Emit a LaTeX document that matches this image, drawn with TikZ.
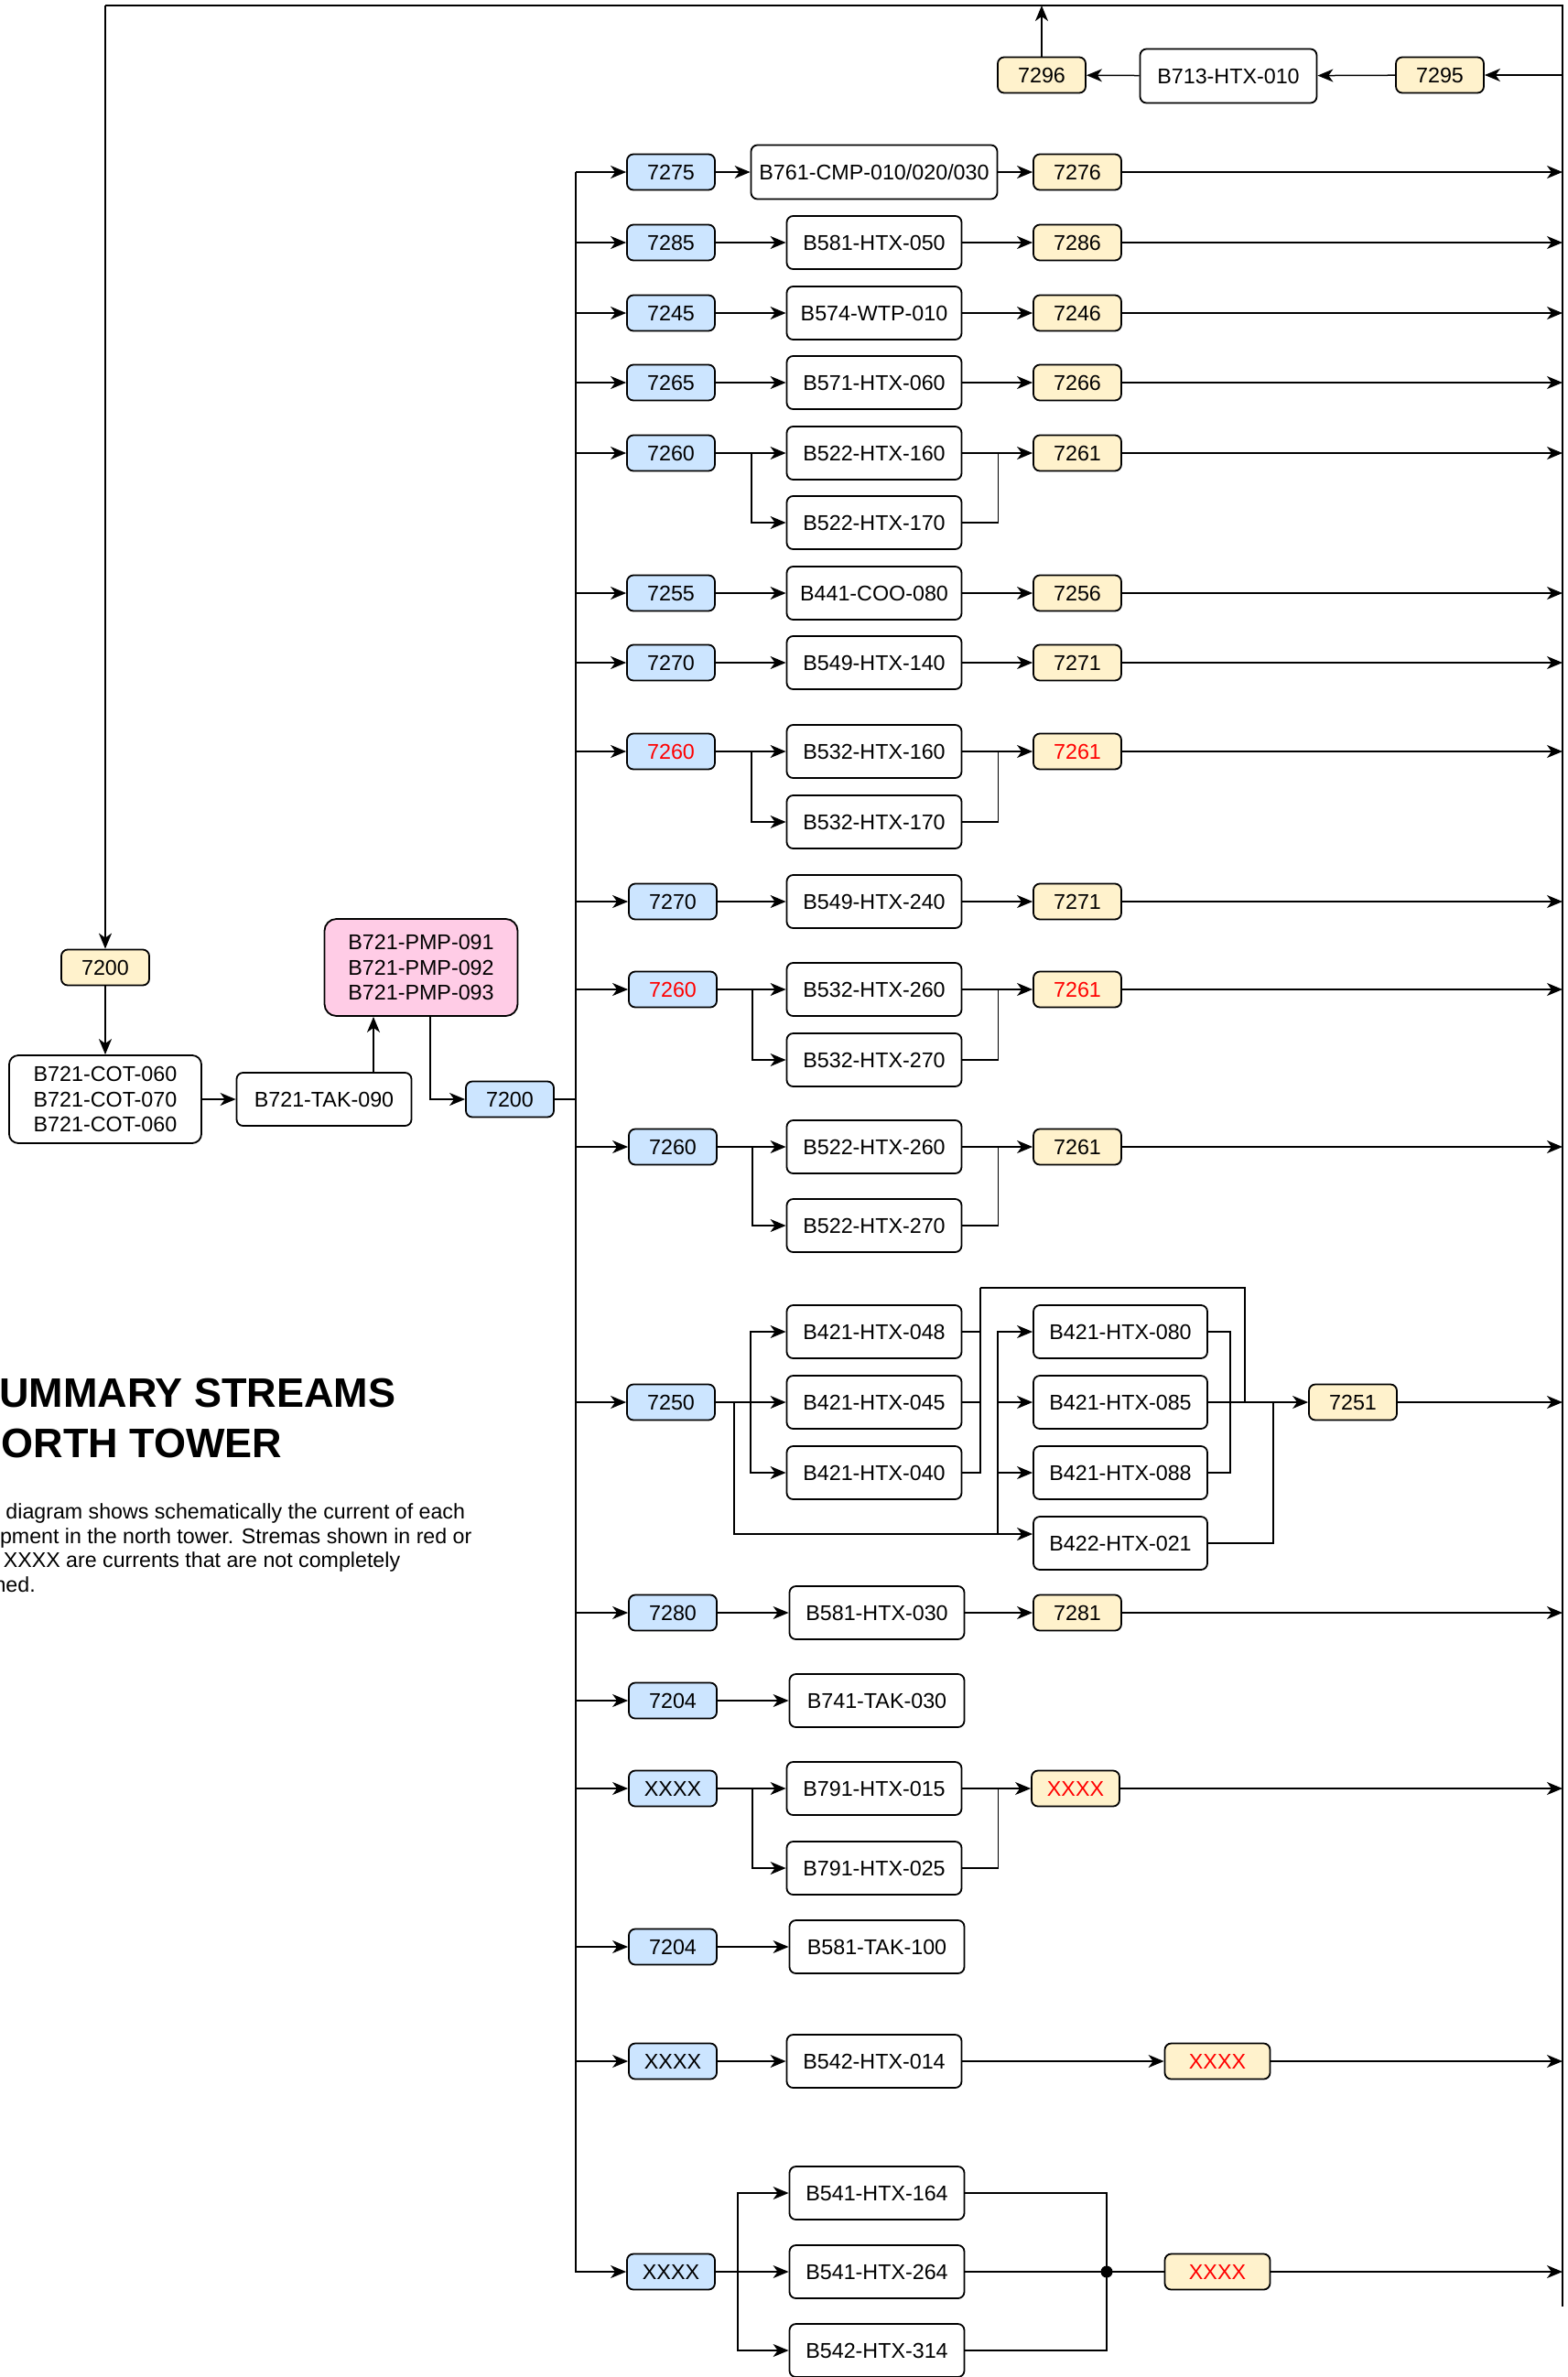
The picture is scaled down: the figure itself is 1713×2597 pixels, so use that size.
\documentclass[tikz,border=0pt]{standalone}
\usepackage{fontspec}
\setmainfont{Liberation Sans}
\usetikzlibrary{arrows.meta,calc}
\definecolor{cblue}{HTML}{CCE5FF}
\definecolor{cyel}{HTML}{FFF2CC}
\definecolor{cpink}{HTML}{FFCCE6}
\tikzset{
 box/.style={draw=black, line width=1.8pt, rounded corners=7pt, fill=white, minimum width=191pt, minimum height=58pt, inner sep=0pt, align=center, font=\fontsize{23.3}{27.7}\selectfont},
 bluebox/.style={box, fill=cblue, minimum width=96pt, minimum height=39pt},
 yelbox/.style={box, fill=cyel, minimum width=96pt, minimum height=39pt},
 ln/.style={line width=1.5pt},
 arr/.style={ln, -{Stealth[length=17pt, width=14pt, inset=5pt]}},
 titletxt/.style={anchor=base west, inner sep=0pt, font=\fontsize{45}{55}\bfseries\selectfont},
 desctxt/.style={anchor=base west, inner sep=0pt, font=\fontsize{23.2}{26.7}\selectfont},
}
\begin{document}
\begin{tikzpicture}[x=1pt,y=-1pt]
\useasboundingbox (0,0) rectangle (1713,2597);
\fill[white] (0,0) rectangle (1713,2597);
\clip (0,0) rectangle (1713,2597);

\coordinate (TL) at (115,6);
\coordinate (TR) at (1707,6);
\coordinate (BR) at (1707,2520);
\coordinate (BUS) at (629,188);

% ---------- top row
\node[yelbox] (t7295) at (1573,82) {7295};
\node[box, minimum width=193pt, minimum height=59pt] (tb713) at (1342,83) {B713-HTX-010};
\node[yelbox] (t7296) at (1138,82) {7296};
\draw[ln] (BR) -- (TR) -- (TL);
\draw[arr] (t7295 -| TR) -- (t7295);
\draw[arr] (t7295) -- (tb713);
\draw[arr] (tb713) -- (t7296);
\draw[arr] (t7296) -- (t7296 |- TL);

% ---------- left part
\node[yelbox] (l7200) at (115,1057) {7200};
\node[box, minimum width=210pt, minimum height=96pt, rounded corners=10pt] (lcot) at (115,1201) {B721-COT-060\\B721-COT-070\\B721-COT-060};
\node[box] (ltak) at (354,1201) {B721-TAK-090};
\node[box, fill=cpink, minimum width=211pt, minimum height=106pt, rounded corners=13pt] (lpmp) at (460,1057) {B721-PMP-091\\B721-PMP-092\\B721-PMP-093};
\node[bluebox] (l7200b) at (557,1201) {7200};
\draw[arr] (TL) -- (l7200);
\draw[arr] (l7200) -- (lcot);
\draw[arr] (lcot) -- (ltak);
\draw[arr] ([xshift=54pt]ltak.north) -- ([xshift=54pt]ltak.north |- lpmp.south);
\draw[arr] ([xshift=10pt]lpmp.south) |- (l7200b);
\draw[ln] (l7200b) -- (l7200b -| BUS);

% ---------- title and description
\node[titletxt] (title1) at (-31,1537) {SUMMARY STREAMS};
\node[titletxt] (title2) at (-31,1592) {NORTH TOWER};
\node[desctxt] (desc1) at (-44,1659) {This diagram shows schematically the current of each};
\node[desctxt] (desc2) at (-44,1686) {equipment in the north tower. Stremas shown in red or};
\node[desctxt] (desc3) at (-44,1712) {with XXXX are currents that are not completely};
\node[desctxt] (desc4) at (-44,1739) {defined.};

% ---------- row 1
\node[bluebox] (r1b) at (733,188) {7275};
\node[box, minimum width=269pt, minimum height=59pt] (r1m) at (955,188) {B761-CMP-010/020/030};
\node[yelbox] (r1y) at (1177,188) {7276};
\draw[arr] (r1b -| BUS) -- (r1b);
\draw[arr] (r1b) -- (r1m);
\draw[arr] (r1m) -- (r1y);
\draw[arr] (r1y) -- (r1y -| TR);

% ---------- row 2
\node[bluebox] (r2b) at (733,265) {7285};
\node[box] (r2m) at (955,265) {B581-HTX-050};
\node[yelbox] (r2y) at (1177,265) {7286};
\draw[arr] (r2b -| BUS) -- (r2b);
\draw[arr] (r2b) -- (r2m);
\draw[arr] (r2m) -- (r2y);
\draw[arr] (r2y) -- (r2y -| TR);

% ---------- row 3
\node[bluebox] (r3b) at (733,342) {7245};
\node[box] (r3m) at (955,342) {B574-WTP-010};
\node[yelbox] (r3y) at (1177,342) {7246};
\draw[arr] (r3b -| BUS) -- (r3b);
\draw[arr] (r3b) -- (r3m);
\draw[arr] (r3m) -- (r3y);
\draw[arr] (r3y) -- (r3y -| TR);

% ---------- row 4
\node[bluebox] (r4b) at (733,418) {7265};
\node[box] (r4m) at (955,418) {B571-HTX-060};
\node[yelbox] (r4y) at (1177,418) {7266};
\draw[arr] (r4b -| BUS) -- (r4b);
\draw[arr] (r4b) -- (r4m);
\draw[arr] (r4m) -- (r4y);
\draw[arr] (r4y) -- (r4y -| TR);

% ---------- row 5 (pair)
\node[bluebox] (r5b) at (733,495) {7260};
\node[box] (r5m) at (955,495) {B522-HTX-160};
\node[box] (r5n) at (955,571) {B522-HTX-170};
\node[yelbox] (r5y) at (1177,495) {7261};
\draw[arr] (r5b -| BUS) -- (r5b);
\draw[arr] (r5b) -- (r5m);
\draw[arr] ([xshift=39pt]r5b.east) |- (r5n);
\draw[ln] (r5n) -| ([xshift=39pt]r5m.east);
\draw[arr] (r5m) -- (r5y);
\draw[arr] (r5y) -- (r5y -| TR);

% ---------- row 6
\node[bluebox] (r6b) at (733,648) {7255};
\node[box] (r6m) at (955,648) {B441-COO-080};
\node[yelbox] (r6y) at (1177,648) {7256};
\draw[arr] (r6b -| BUS) -- (r6b);
\draw[arr] (r6b) -- (r6m);
\draw[arr] (r6m) -- (r6y);
\draw[arr] (r6y) -- (r6y -| TR);

% ---------- row 7
\node[bluebox] (r7b) at (733,724) {7270};
\node[box] (r7m) at (955,724) {B549-HTX-140};
\node[yelbox] (r7y) at (1177,724) {7271};
\draw[arr] (r7b -| BUS) -- (r7b);
\draw[arr] (r7b) -- (r7m);
\draw[arr] (r7m) -- (r7y);
\draw[arr] (r7y) -- (r7y -| TR);

% ---------- row 8 (pair, red)
\node[bluebox, text=red] (r8b) at (733,821) {7260};
\node[box] (r8m) at (955,821) {B532-HTX-160};
\node[box] (r8n) at (955,898) {B532-HTX-170};
\node[yelbox, text=red] (r8y) at (1177,821) {7261};
\draw[arr] (r8b -| BUS) -- (r8b);
\draw[arr] (r8b) -- (r8m);
\draw[arr] ([xshift=39pt]r8b.east) |- (r8n);
\draw[ln] (r8n) -| ([xshift=39pt]r8m.east);
\draw[arr] (r8m) -- (r8y);
\draw[arr] (r8y) -- (r8y -| TR);

% ---------- row 9
\node[bluebox] (r9b) at (735,985) {7270};
\node[box] (r9m) at (955,985) {B549-HTX-240};
\node[yelbox] (r9y) at (1177,985) {7271};
\draw[arr] (r9b -| BUS) -- (r9b);
\draw[arr] (r9b) -- (r9m);
\draw[arr] (r9m) -- (r9y);
\draw[arr] (r9y) -- (r9y -| TR);

% ---------- row 10 (pair, red)
\node[bluebox, text=red] (r10b) at (735,1081) {7260};
\node[box] (r10m) at (955,1081) {B532-HTX-260};
\node[box] (r10n) at (955,1158) {B532-HTX-270};
\node[yelbox, text=red] (r10y) at (1177,1081) {7261};
\draw[arr] (r10b -| BUS) -- (r10b);
\draw[arr] (r10b) -- (r10m);
\draw[arr] ([xshift=38pt]r10b.east) |- (r10n);
\draw[ln] (r10n) -| ([xshift=39pt]r10m.east);
\draw[arr] (r10m) -- (r10y);
\draw[arr] (r10y) -- (r10y -| TR);

% ---------- row 11 (pair)
\node[bluebox] (r11b) at (735,1253) {7260};
\node[box] (r11m) at (955,1253) {B522-HTX-260};
\node[box] (r11n) at (955,1339) {B522-HTX-270};
\node[yelbox] (r11y) at (1177,1253) {7261};
\draw[arr] (r11b -| BUS) -- (r11b);
\draw[arr] (r11b) -- (r11m);
\draw[arr] ([xshift=38pt]r11b.east) |- (r11n);
\draw[ln] (r11n) -| ([xshift=39pt]r11m.east);
\draw[arr] (r11m) -- (r11y);
\draw[arr] (r11y) -- (r11y -| TR);

% ---------- group 7250
\node[bluebox] (g7250) at (733,1532) {7250};
\node[box] (g048) at (955,1455) {B421-HTX-048};
\node[box] (g045) at (955,1532) {B421-HTX-045};
\node[box] (g040) at (955,1609) {B421-HTX-040};
\node[box, minimum width=190pt] (g080) at (1224,1455) {B421-HTX-080};
\node[box, minimum width=190pt] (g085) at (1224,1532) {B421-HTX-085};
\node[box, minimum width=190pt] (g088) at (1224,1609) {B421-HTX-088};
\node[box, minimum width=190pt] (g021) at (1224,1686) {B422-HTX-021};
\node[yelbox] (g7251) at (1478,1532) {7251};
\coordinate (gv1) at (1071,1407);
\coordinate (gv2) at (1090,1676);
\coordinate (gj1) at (1360,1532);
\coordinate (gj2) at (1344,1532);
\coordinate (gj3) at (1391,1532);
\draw[arr] (g7250 -| BUS) -- (g7250);
\draw[arr] (g7250) -- (g045);
\draw[arr] ([xshift=38pt]g7250.east) |- (g048);
\draw[arr] ([xshift=38pt]g7250.east) |- (g040);
\draw[arr] ([xshift=20pt]g7250.east) |- (gv2 -| g021.west);
\draw[arr] (gv2) |- (g080);
\draw[arr] (gv2) |- (g085);
\draw[arr] (gv2) |- (g088);
\draw[ln] (g048) -| (gv1);
\draw[ln] (g045) -| (gv1);
\draw[ln] (g040) -| (gv1);
\draw[ln] (gv1) -| (gj1);
\draw[ln] (g080) -| (gj2);
\draw[ln] (g088) -| (gj2);
\draw[ln] (g021) -| (gj3);
\draw[arr] (g085) -- (g7251);
\draw[arr] (g7251) -- (g7251 -| TR);

% ---------- row 12
\node[bluebox] (r12b) at (735,1762) {7280};
\node[box] (r12m) at (958,1762) {B581-HTX-030};
\node[yelbox] (r12y) at (1177,1762) {7281};
\draw[arr] (r12b -| BUS) -- (r12b);
\draw[arr] (r12b) -- (r12m);
\draw[arr] (r12m) -- (r12y);
\draw[arr] (r12y) -- (r12y -| TR);

% ---------- row 13
\node[bluebox] (r13b) at (735,1858) {7204};
\node[box] (r13m) at (958,1858) {B741-TAK-030};
\draw[arr] (r13b -| BUS) -- (r13b);
\draw[arr] (r13b) -- (r13m);

% ---------- row 14 (pair)
\node[bluebox] (r14b) at (735,1954) {XXXX};
\node[box] (r14m) at (955,1954) {B791-HTX-015};
\node[box] (r14n) at (955,2041) {B791-HTX-025};
\node[yelbox, text=red] (r14y) at (1175,1954) {XXXX};
\draw[arr] (r14b -| BUS) -- (r14b);
\draw[arr] (r14b) -- (r14m);
\draw[arr] ([xshift=38pt]r14b.east) |- (r14n);
\draw[ln] (r14n) -| ([xshift=39pt]r14m.east);
\draw[arr] (r14m) -- (r14y);
\draw[arr] (r14y) -- (r14y -| TR);

% ---------- row 15
\node[bluebox] (r15b) at (735,2127) {7204};
\node[box] (r15m) at (958,2127) {B581-TAK-100};
\draw[arr] (r15b -| BUS) -- (r15b);
\draw[arr] (r15b) -- (r15m);

% ---------- row 16
\node[bluebox] (r16b) at (735,2252) {XXXX};
\node[box] (r16m) at (955,2252) {B542-HTX-014};
\node[yelbox, minimum width=115pt, text=red] (r16y) at (1330,2252) {XXXX};
\draw[arr] (r16b -| BUS) -- (r16b);
\draw[arr] (r16b) -- (r16m);
\draw[arr] (r16m) -- (r16y);
\draw[arr] (r16y) -- (r16y -| TR);

% ---------- last group
\node[bluebox] (z0) at (733,2482) {XXXX};
\node[box] (z1) at (958,2396) {B541-HTX-164};
\node[box] (z2) at (958,2482) {B541-HTX-264};
\node[box] (z3) at (958,2568) {B542-HTX-314};
\node[yelbox, minimum width=115pt, text=red] (zy) at (1330,2482) {XXXX};
\coordinate (zdot) at (1209,2482);
\draw[arr] (BUS) |- (z0);
\draw[arr] (z0) -- (z2);
\draw[arr] ([xshift=24pt]z0.east) |- (z1);
\draw[arr] ([xshift=24pt]z0.east) |- (z3);
\draw[ln] (z1) -| (zdot);
\draw[ln] (z3) -| (zdot);
\draw[ln] (z2) -- (zdot);
\draw[ln] (zdot) -- (zy);
\fill (zdot) circle (6.5pt);
\draw[arr] (zy) -- (zy -| TR);
\end{tikzpicture}
\end{document}
